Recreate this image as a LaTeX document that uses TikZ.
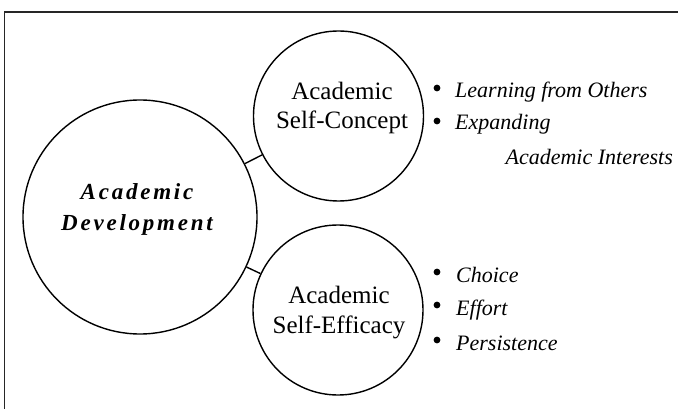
\documentclass[tikz,border=0pt]{standalone}
\usepackage{fontspec}
\setmainfont{Liberation Serif}
\newfontfamily\headfont[LetterSpace=12]{Liberation Serif}
\begin{document}
\begin{tikzpicture}[x=1pt,y=-1pt,
  ring/.style={draw=black,circle,line width=1.4pt,inner sep=0pt},
  link/.style={draw=black,line width=1.4pt},
  frame/.style={draw=black!85,line width=1.6pt},
  ctext/.style={anchor=base,inner sep=0pt,font=\fontsize{25}{30}\selectfont},
  htext/.style={anchor=base,inner sep=0pt,font=\headfont\bfseries\itshape\fontsize{23}{28}\selectfont},
  btext/.style={anchor=base west,inner sep=0pt,font=\itshape\fontsize{22}{26}\selectfont},
  bul/.style={circle,fill=black,inner sep=0pt,minimum size=6.8pt}]
\useasboundingbox (0,0) rectangle (678,409);
\clip (0,0) rectangle (678,409);
% frame
\coordinate (fA) at (4.5,430);
\coordinate (fB) at (700,12);
\draw[frame] (fA) |- (fB);
% circles
\node[ring,minimum size=234pt] (dev) at (140,217) {};
\node[ring,minimum size=170pt] (con) at (338.5,116) {};
\node[ring,minimum size=170pt] (eff) at (338,310) {};
\draw[link] (dev) -- (con);
\draw[link] (dev) -- (eff);
% circle texts
\node[htext] (d1) at (137,200) {Academic};
\node[htext] (d2) at (137,230) {Development};
\node[ctext] (c1) at (342,100) {Academic};
\node[ctext] (c2) at (342,129) {Self-Concept};
\node[ctext] (e1) at (339,303) {Academic};
\node[ctext] (e2) at (339,333) {Self-Efficacy};
% top list
\node[bul] (b1) at (437,88) {};
\node[btext] (t1) at (455,98) {Learning from Others};
\node[bul] (b2) at (437,121) {};
\node[btext] (t2) at (455,130) {Expanding};
\node[btext,anchor=base east] (t3) at (673,165) {Academic Interests};
% bottom list
\node[bul] (b3) at (437,272) {};
\node[btext] (s1) at (456,282) {Choice};
\node[bul] (b4) at (437,305) {};
\node[btext] (s2) at (456,315) {Effort};
\node[bul] (b5) at (437,340) {};
\node[btext] (s3) at (456,350) {Persistence};
\end{tikzpicture}
\end{document}
